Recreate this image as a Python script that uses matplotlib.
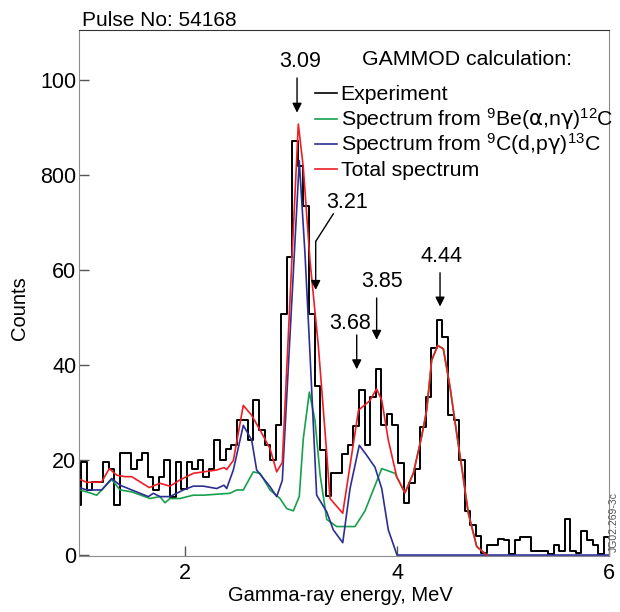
import numpy as np
import matplotlib
matplotlib.use('Agg')
import matplotlib.pyplot as plt

plt.rcParams['font.family'] = ['Liberation Sans', 'DejaVu Sans']
plt.rcParams['mathtext.fontset'] = 'custom'
plt.rcParams['mathtext.rm'] = 'Liberation Sans'
plt.rcParams['mathtext.it'] = 'Liberation Sans:italic'
plt.rcParams['mathtext.bf'] = 'Liberation Sans:bold'
plt.rcParams['mathtext.sf'] = 'DejaVu Sans'

# experiment histogram (counts per channel), regular channels
first_edge = 0.967   # MeV
bin_width = 0.05245  # MeV
exp_counts = [10.5, 19.6, 13.7, 15.4, 15.4, 19.6, 18.2, 10.5, 21.4, 21.4,
              18.2, 20.1, 21.4, 16.5, 13.7, 16.5, 20.1, 12.3, 19.6, 14.0,
              19.6, 18.2, 20.0, 16.5, 18.2, 24.2, 20.0, 22.4, 23.1, 28.4,
              28.4, 24.2, 32.6, 26.3, 23.1, 20.0, 27.3, 50.8, 62.7, 87.2,
              81.9, 73.5, 50.8, 35.5, 22.1, 12.4, 17.2, 17.2, 21.2, 23.1,
              27.1, 34.7, 23.1, 33.3, 39.2, 27.3, 29.6, 27.3, 19.4, 11.0,
              15.1, 18.2, 27.0, 33.3, 43.6, 49.5, 45.9, 29.4, 28.5, 20.1,
              9.3, 6.3, 4.0, 0.4, 2.1, 2.1, 3.3, 3.2, 0.2, 3.2,
              3.9, 3.9, 0.9, 0.9, 0.9, 0.2, 2.1, 0.9, 7.5, 0.9,
              0.4, 5.1, 3.2, 2.1, 0.2, 3.9]

# GAMMOD total spectrum
total_energy = [1.000, 1.073, 1.214, 1.286, 1.356, 1.434, 1.497, 1.663, 1.764, 1.858,
                1.953, 2.078, 2.173, 2.299, 2.368, 2.393, 2.456, 2.550, 2.629, 2.708,
                2.802, 2.865, 2.918, 3.069, 3.116, 3.179, 3.258, 3.337, 3.368, 3.488,
                3.637, 3.745, 3.807, 3.856, 3.918, 3.997, 4.075, 4.154, 4.233, 4.280,
                4.327, 4.384, 4.437, 4.500, 4.563, 4.610, 4.673, 4.752, 4.846]
total_counts = [16.0, 15.3, 15.4, 18.2, 16.8, 16.5, 16.5, 14.2, 15.1, 14.5,
                15.8, 17.2, 17.5, 17.9, 18.4, 18.0, 19.9, 31.5, 29.4, 26.3,
                22.4, 17.5, 19.5, 90.7, 81.6, 62.0, 44.0, 21.4, 11.9, 8.8,
                30.5, 32.5, 35.0, 32.6, 24.2, 16.5, 13.1, 17.2, 25.0, 30.5,
                41.0, 44.1, 43.4, 35.4, 25.6, 18.6, 8.8, 1.8, 0.0]

# 9Be(a,ng)12C component
be_energy = [1.003, 1.073, 1.167, 1.214, 1.308, 1.387, 1.497, 1.670, 1.764, 1.811,
             1.858, 1.953, 2.078, 2.173, 2.425, 2.488, 2.550, 2.644, 2.708, 2.802,
             2.896, 2.959, 3.022, 3.078, 3.116, 3.173, 3.226, 3.274, 3.337, 3.431,
             3.604, 3.698, 3.856, 3.981, 4.012, 4.075, 4.154, 4.233, 4.280, 4.327,
             4.384, 4.437, 4.500, 4.563, 4.610, 4.673, 4.752, 4.846]
be_counts = [13.7, 13.3, 12.6, 13.7, 15.9, 13.7, 13.3, 11.9, 12.3, 11.0,
             11.9, 11.9, 12.6, 12.6, 13.0, 13.7, 13.7, 17.5, 17.2, 13.7,
             11.9, 9.8, 9.3, 12.3, 24.5, 34.3, 28.4, 17.0, 7.5, 6.0,
             6.0, 9.3, 18.2, 17.2, 15.8, 13.1, 17.2, 25.0, 30.5, 41.0,
             44.1, 43.4, 35.4, 25.6, 18.6, 8.8, 1.8, 0.0]

# 9C(d,pg)13C component
c_energy = [1.003, 1.073, 1.214, 1.308, 1.387, 1.654, 1.701, 1.764, 1.858, 1.984,
            2.078, 2.173, 2.299, 2.368, 2.393, 2.456, 2.550, 2.629, 2.676, 2.802,
            2.865, 2.918, 3.078, 3.132, 3.179, 3.242, 3.337, 3.399, 3.488, 3.557,
            3.644, 3.714, 3.792, 3.856, 3.918, 4.000, 6.000]
c_counts = [14.2, 13.7, 13.7, 16.1, 14.7, 12.3, 13.0, 12.3, 12.3, 13.7,
            14.5, 14.5, 14.0, 14.7, 14.0, 17.9, 27.3, 24.2, 17.9, 14.4,
            12.3, 15.7, 83.0, 63.4, 42.4, 12.6, 9.1, 5.3, 2.6, 14.0,
            23.1, 21.0, 18.5, 14.0, 5.3, 0.0, 0.0]

y_ticks = [0, 20, 40, 60, 80, 100]
y_tick_labels = ['0', '20', '40', '60', '800', '100']
x_ticks = [2, 4, 6]
peak_labels = ['3.09', '3.21', '3.68', '3.85', '4.44']
legend_labels = ['Experiment',
                 r'Spectrum from $^{9}$Be($\mathsf{\alpha}$,n$\mathsf{\gamma}$)$^{12}$C',
                 r'Spectrum from $^{9}$C(d,p$\mathsf{\gamma}$)$^{13}$C',
                 'Total spectrum']

c_exp, c_be, c_c, c_tot = 'black', '#17a04b', '#2b2f92', '#ee1d25'

fig = plt.figure(figsize=(6.2, 6.12), dpi=100)
ax = fig.add_axes([79/620, 1 - 556/612, 530/620, 526/612])

edges = first_edge + bin_width * np.arange(len(exp_counts) + 1)
ax.step(edges, np.append(exp_counts, exp_counts[-1]), where='post', color=c_exp, lw=1.4)
ax.plot(be_energy, be_counts, color=c_be, lw=1.2)
ax.plot(c_energy, c_counts, color=c_c, lw=1.2)
ax.plot(total_energy, total_counts, color=c_tot, lw=1.2)

ax.set_xlim(1, 6)
ax.set_ylim(-0.2, 110.5)
ax.set_xticks(x_ticks)
ax.set_yticks(y_ticks)
ax.set_yticklabels(y_tick_labels)
ax.tick_params(axis='both', direction='in', length=7, width=1, color='#555555', labelsize=15.5)
ax.tick_params(axis='y', pad=2)
ax.tick_params(axis='x', pad=5)
for s in ['left', 'bottom', 'right']:
    ax.spines[s].set_color('#8c8c8c')
ax.spines['top'].set_color('#333333')

ax.set_xlabel('Gamma-ray energy, MeV', fontsize=14.5)
ax.set_ylabel('Counts', fontsize=14.5)
ax.xaxis.set_label_coords(0.4925, -0.057)
ax.yaxis.set_label_coords(-0.094, 0.471)

# legend, drawn row by row so spacing stays even
ax.text(0.732, (556 - 65) / 526, 'GAMMOD calculation:', transform=ax.transAxes,
        ha='center', va='baseline', fontsize=15.3)
for i, (col, lab) in enumerate(zip([c_exp, c_be, c_c, c_tot], legend_labels)):
    yh = (556 - (93.3 + 25.3 * i)) / 526
    yt = (556 - (100.5 + 25.3 * i)) / 526
    ax.plot([0.4453, 0.4862], [yh, yh], color=col, lw=1.2, transform=ax.transAxes, clip_on=False)
    ax.text(0.4938, yt, lab, transform=ax.transAxes, va='baseline', fontsize=15.3)

# peak markers
arrow = dict(arrowstyle='-|>', color='black', lw=1, mutation_scale=14, shrinkA=0, shrinkB=0)
ax.text(3.085, 103.8, peak_labels[0], ha='center', va='center', fontsize=15.5)
ax.annotate('', xy=(3.057, 93.1), xytext=(3.057, 100.4), arrowprops=arrow)
ax.text(3.528, 74.3, peak_labels[1], ha='center', va='center', fontsize=15.5)
ax.plot([3.399, 3.233], [71.8, 66.0], color='black', lw=1)
ax.annotate('', xy=(3.233, 55.8), xytext=(3.233, 66.0), arrowprops=arrow)
ax.text(3.557, 48.8, peak_labels[2], ha='center', va='center', fontsize=15.5)
ax.annotate('', xy=(3.62, 39.1), xytext=(3.62, 46.3), arrowprops=arrow)
ax.text(3.856, 57.5, peak_labels[3], ha='center', va='center', fontsize=15.5)
ax.annotate('', xy=(3.808, 45.3), xytext=(3.808, 54.1), arrowprops=arrow)
ax.text(4.422, 62.9, peak_labels[4], ha='center', va='center', fontsize=15.5)
ax.annotate('', xy=(4.406, 52.3), xytext=(4.406, 59.4), arrowprops=arrow)

fig.text(81.7/620, 1 - 26/612, 'Pulse No: 54168', fontsize=15, va='baseline')
fig.text(614/620, 1 - 522/612, 'JG02.269-3c', fontsize=7.5, color='#555555',
         rotation=90, ha='center', va='center')

fig.savefig('out.png', dpi=100)
